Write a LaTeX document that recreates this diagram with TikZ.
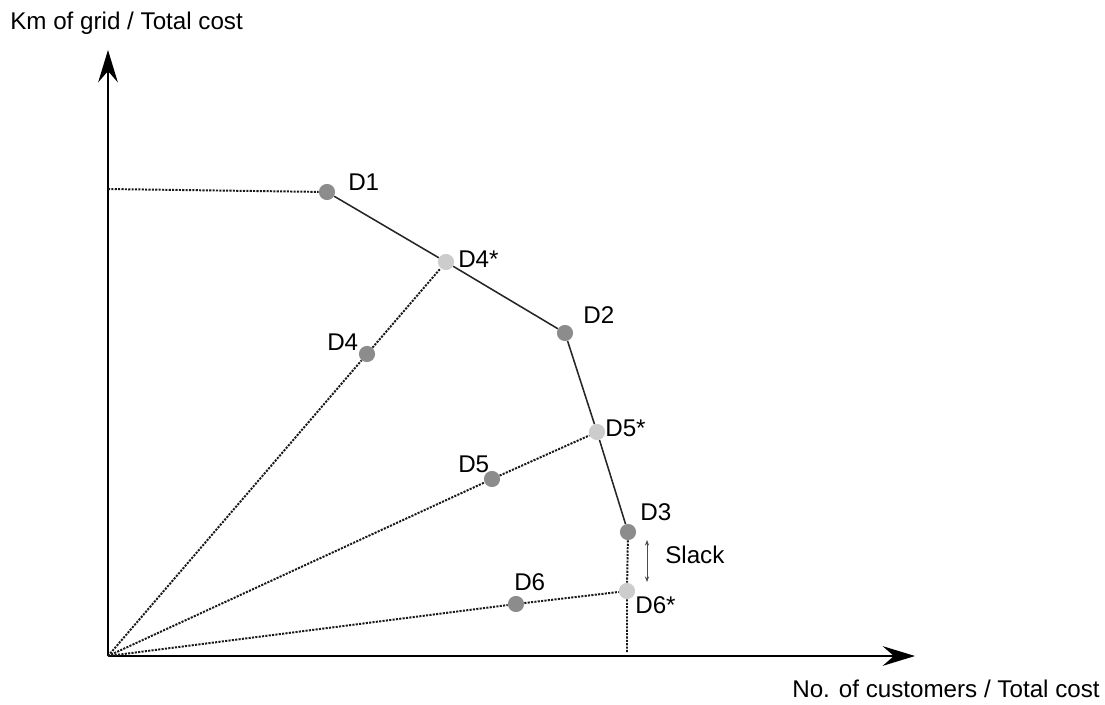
\documentclass[tikz,border=0pt]{standalone}
\usepackage{fontspec}
\setmainfont{Liberation Sans}
\usetikzlibrary{arrows.meta, positioning}
\tikzstyle{ptdark} = [circle, minimum size=11.5pt, inner sep=0pt, fill=black!45]
\tikzstyle{ptlight} = [circle, minimum size=11.5pt, inner sep=0pt, fill=black!20]
\tikzstyle{lbl} = [anchor=west, inner sep=0pt, font=\fontsize{17.2}{20}\selectfont]
\tikzstyle{axislbl} = [anchor=base west, inner sep=0pt, font=\fontsize{17.2}{20}\selectfont]
\tikzstyle{axis} = [line width=1.2pt, -{Stealth[length=23pt, width=14pt, inset=8pt]}]
\tikzstyle{frontier} = [line width=1.1pt, black!85]
\tikzstyle{ray} = [line width=1.4pt, dash pattern=on 1.5pt off 0.9pt, black!90]
\tikzstyle{slackarrow} = [line width=0.5pt, black!70, {Stealth[length=4pt, width=3pt]}-{Stealth[length=4pt, width=3pt]}]

\begin{document}
\begin{tikzpicture}[x=0.025cm, y=-0.025cm]
        \useasboundingbox (0,0) rectangle (1105,704);
        % Axes
        \coordinate (o) at (108,656);
        \coordinate (ytip) at (108,50);
        \coordinate (xtip) at (915,656);
        \draw [axis] (o) -- (ytip);
        \draw [axis] (o) -- (xtip);
        \node (ylbl) [axislbl] at (10,29) {Km of grid / Total cost};
        \node (xlbl) [axislbl] at (792,697) {No. of customers / Total cost};

        % Points
        \node (d1) [ptdark] at (327,192) {};
        \node (d4s) [ptlight] at (446,262) {};
        \node (d2) [ptdark] at (565,333) {};
        \node (d5s) [ptlight] at (597,432) {};
        \node (d3) [ptdark] at (628,532) {};
        \node (d6s) [ptlight] at (627,591) {};
        \node (d4) [ptdark] at (367,354) {};
        \node (d5) [ptdark] at (492,479) {};
        \node (d6) [ptdark] at (516,604) {};
        \coordinate (d1y) at (108,189);
        \coordinate (d3x) at (627,652);

        % Labels
        \node (d1l) [lbl] at (348,182) {D1};
        \node (d4sl) [lbl] at (458,259) {D4*};
        \node (d2l) [lbl] at (583,315) {D2};
        \node (d4l) [lbl] at (327,342) {D4};
        \node (d5sl) [lbl] at (605,428) {D5*};
        \node (d5l) [lbl] at (458,464) {D5};
        \node (d3l) [lbl] at (640,512) {D3};
        \node (d6l) [lbl] at (514,582) {D6};
        \node (d6sl) [lbl] at (635,605) {D6*};
        \node (slack) [lbl] at (665,555) {Slack};

        % Frontier
        \draw [frontier] (d1) -- (d4s) -- (d2) -- (d5s) -- (d3);

        % Dotted rays
        \draw [ray] (d1y) -- (d1);
        \draw [ray] (o) -- (d4) -- (d4s);
        \draw [ray] (o) -- (d5) -- (d5s);
        \draw [ray] (o) -- (d6) -- (d6s);
        \draw [ray] (d3) -- (d6s) -- (d3x);

        % Slack
        \coordinate (sltop) at (647,540);
        \coordinate (slbot) at (647,582);
        \draw [slackarrow] (sltop) -- (slbot);
    \end{tikzpicture}
\end{document}
